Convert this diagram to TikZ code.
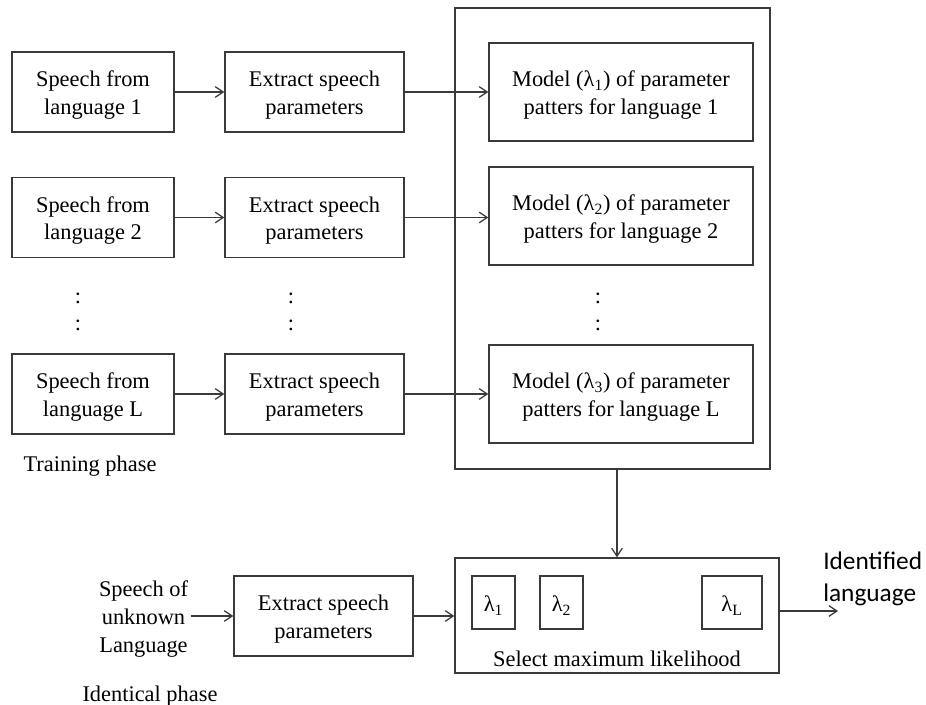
\documentclass[tikz,border=0pt]{standalone}
\usepackage{fontspec}
\setmainfont{Liberation Serif}
\newfontfamily\calib{Carlito}
\usetikzlibrary{arrows.meta}
\definecolor{ln}{HTML}{3A3A3A}
\newcommand\bt[1]{\raisebox{-2.3pt}[\height][\depth]{\begin{tabular}{@{}c@{}}#1\end{tabular}}}
\newcommand\lt[1]{\raisebox{-2.3pt}[\height][\depth]{#1}}
\begin{document}
\begin{tikzpicture}[x=0.75pt,y=-0.75pt,
  font=\fontsize{16.8}{20.5}\selectfont,
  bx/.style={draw=ln,line width=1.1pt,align=center,inner sep=0pt},
  abox/.style={bx,minimum width=121.5pt,minimum height=60pt},
  bbox/.style={bx,minimum width=134.25pt,minimum height=60pt},
  mbox/.style={bx,minimum width=198pt,minimum height=73.5pt},
  lbox/.style={bx,minimum width=32.25pt,minimum height=39.75pt},
  arr/.style={draw=ln,line width=0.9pt,-{Straight Barb[length=6pt,width=8pt,line width=0.9pt]}},
  lbl/.style={inner sep=0pt,align=center}]
\useasboundingbox (0,0) rectangle (926,705);
% big box
\node[bx,minimum width=236.25pt,minimum height=345.75pt] (big) at (612.5,238.5) {};
% row 1
\node[abox] (a1) at (93,92) {\bt{Speech from\\language 1}};
\node[bbox] (b1) at (314.5,92) {\bt{Extract speech\\parameters}};
\node[mbox] (m1) at (621,92) {\bt{Model (λ\textsubscript{1}) of parameter\\patters for language 1}};
% row 2
\node[abox] (a2) at (93,217.5) {\bt{Speech from\\language 2}};
\node[bbox] (b2) at (314.5,217.5) {\bt{Extract speech\\parameters}};
\node[mbox] (m2) at (621,216) {\bt{Model (λ\textsubscript{2}) of parameter\\patters for language 2}};
% row L
\node[abox] (a3) at (93,394) {\bt{Speech from\\language L}};
\node[bbox] (b3) at (314.5,394) {\bt{Extract speech\\parameters}};
\node[mbox] (m3) at (621,394) {\bt{Model (λ\textsubscript{3}) of parameter\\patters for language L}};
% dots
\foreach \x/\n in {78/a,291/b,598/m}{
  \node[lbl] (\n dotA) at (\x,298) {:};
  \node[lbl] (\n dotB) at (\x,325) {:};
}
\node[lbl] (train) at (90,466) {Training phase};
% arrows training
\foreach \i in {1,2,3}{
  \draw[arr] (a\i) -- (b\i);
  \draw[arr] (b\i.east) -- (m\i.west |- b\i.east);
}
% identification
\node[bx,minimum width=243pt,minimum height=86.25pt] (sel) at (617,615.5) {};
\node[lbox] (l1) at (493.5,602.5) {\lt{λ\textsubscript{1}}};
\node[lbox] (l2) at (561.5,602.5) {\lt{λ\textsubscript{2}}};
\node[bx,minimum width=45pt,minimum height=39.75pt] (lL) at (732,602.5) {\lt{λ\textsubscript{L}}};
\node[lbl] (seltxt) at (617,658.5) {Select maximum likelihood};
\node[bbox] (b4) at (323.5,616) {\bt{Extract speech\\parameters}};
\node[lbl,font=\fontsize{16.8}{21}\selectfont] (in) at (143.5,619) {Speech of\\unknown\\Language};
\node[lbl] (ident) at (150,696) {Identical phase};
\coordinate (out) at (838,611);
\node[lbl,anchor=west,font=\calib\fontsize{19}{23.5}\selectfont,align=left] (idl) at (823,579) {Identified\\language};
\draw[arr] (in.east |- b4.west) ++(3,0) -- (b4.west);
\draw[arr] (b4.east) -- (sel.west |- b4.east);
\draw[arr] (big.south -| sel.north) -- (sel.north);
\draw[arr] (sel.east |- out) -- (out);
\end{tikzpicture}
\end{document}
